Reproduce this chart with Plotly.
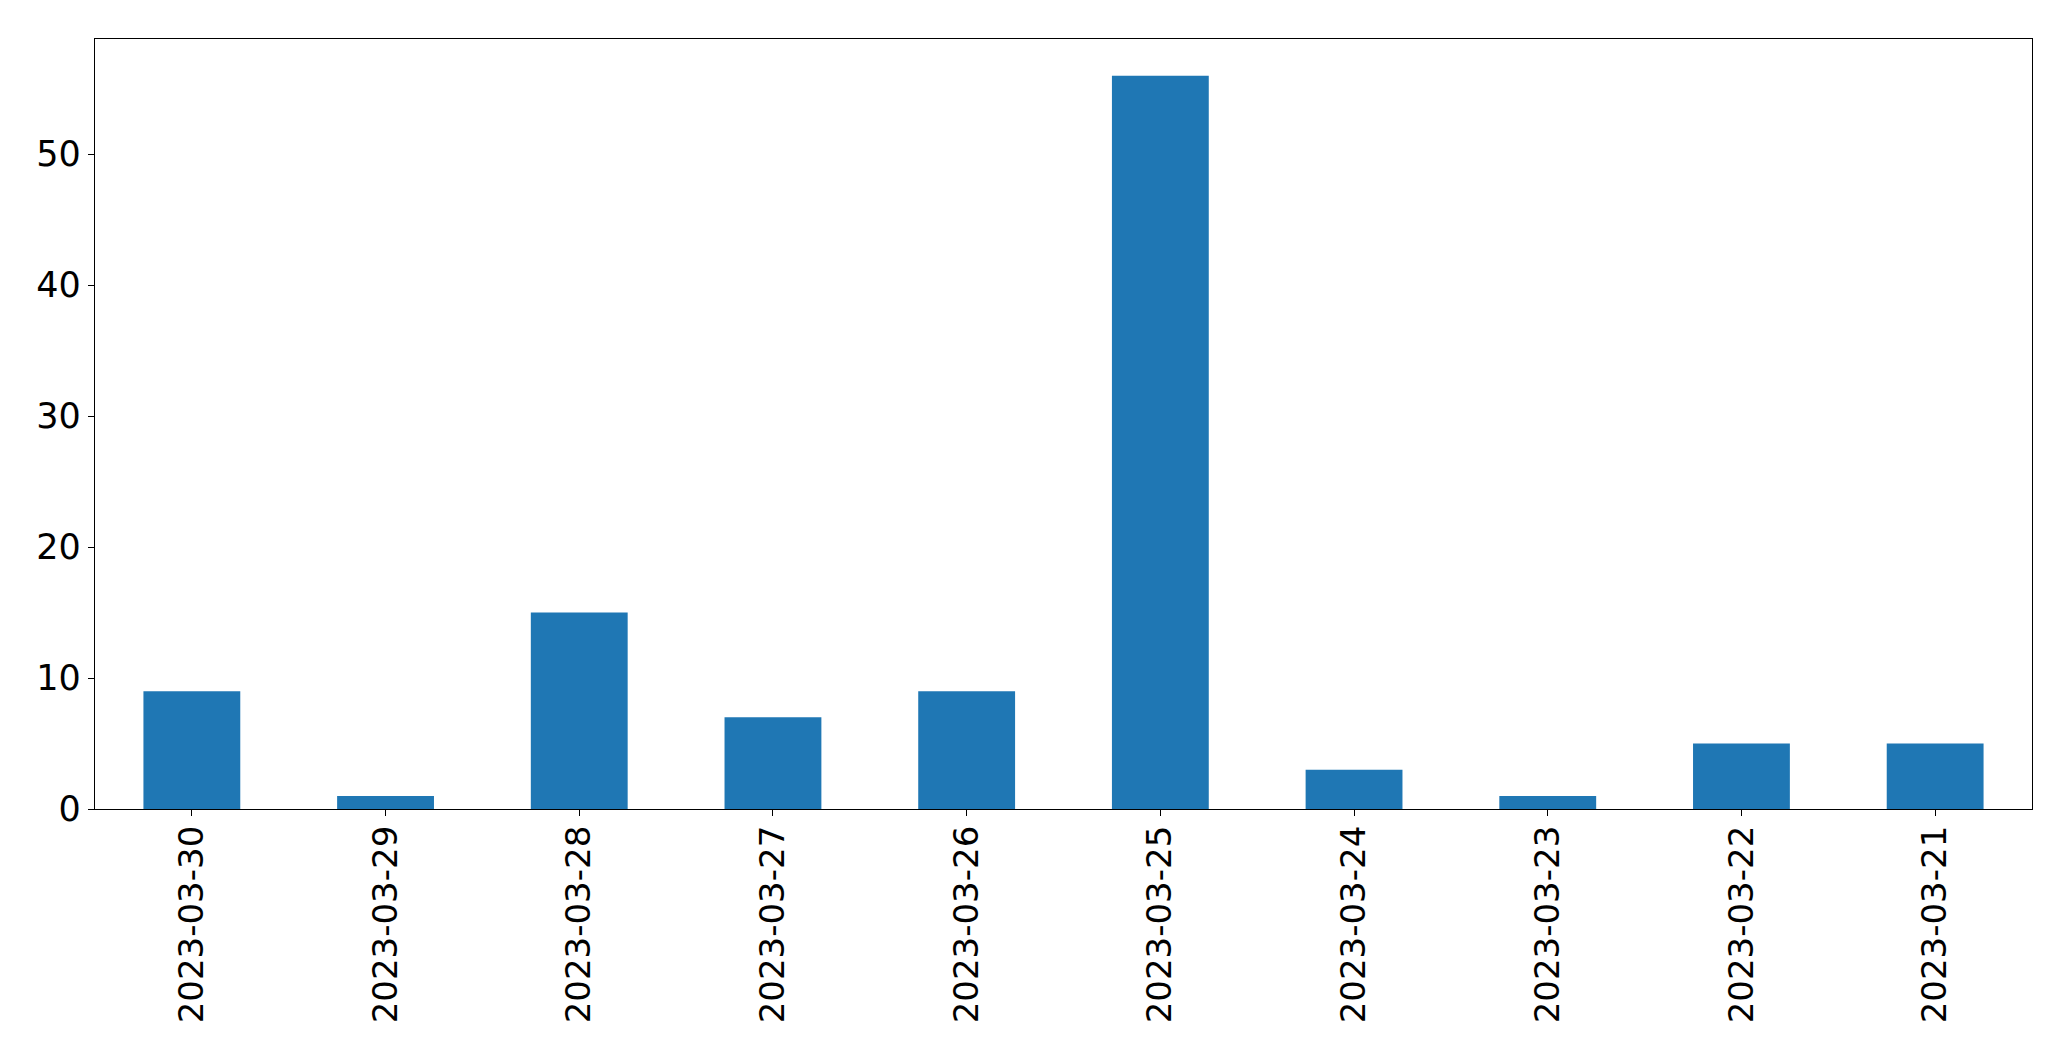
import plotly.graph_objects as go

dates = ["2023-03-30", "2023-03-29", "2023-03-28", "2023-03-27", "2023-03-26",
         "2023-03-25", "2023-03-24", "2023-03-23", "2023-03-22", "2023-03-21"]
counts = [9, 1, 15, 7, 9, 56, 3, 1, 5, 5]
y_ticks = [0, 10, 20, 30, 40, 50]

fig = go.Figure(go.Bar(x=dates, y=counts, marker_color="#1f77b4",
                       marker_line_width=0, width=0.5))

# page body has an 8px margin, so the figure is offset by (8, 8)
W, H = 2055, 1045
left, top, right, bottom = 94.7 - 8, 39.3 - 8, 2031.7 - 8, 809.3 - 8
fig.update_layout(
    width=W, height=H,
    margin=dict(l=left, r=W - right, t=top, b=H - bottom, autoexpand=False),
    plot_bgcolor="white", paper_bgcolor="white",
    showlegend=False, bargap=0.5,
)
fig.update_xaxes(type="category", range=[-0.5, 9.5], tickangle=-90,
                 showline=True, mirror=True, linecolor="black", linewidth=1.3,
                 ticks="outside", ticklen=6, tickwidth=1.3, tickcolor="black",
                 showgrid=False, zeroline=False, ticklabelstandoff=-4,
                 tickfont=dict(family="DejaVu Sans", size=34, color="black"),
                 automargin=False)
fig.update_yaxes(range=[0, 58.8], tickvals=y_ticks,
                 showline=True, mirror=True, linecolor="black", linewidth=1.3,
                 ticks="outside", ticklen=6, tickwidth=1.3, tickcolor="black",
                 showgrid=False, zeroline=False,
                 tickfont=dict(family="DejaVu Sans", size=35, color="black"),
                 automargin=False)

fig.write_html("out.html")
